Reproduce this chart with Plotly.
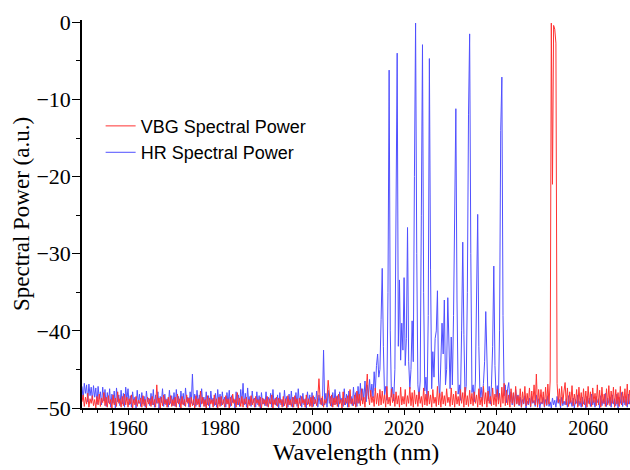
import plotly.graph_objects as go

# Wavelength grid: 1950.00 nm onward, one sample every 0.25 nm (rows of 20 samples = 5 nm)
start_nm = 1950.0
step_nm = 0.25

# HR (blue) spectral power
hr_power = [
    # 1950
    -47.2, -48.9, -46.8, -48.1, -47.0, -49.2, -46.9, -48.4, -47.3, -49.0, -47.1, -48.6, -47.4, -49.5, -47.2, -48.8, -47.9, -49.6, -47.3, -49.1,
    # 1955
    -47.6, -49.8, -48.0, -49.3, -47.5, -49.9, -48.2, -49.4, -47.8, -50.0, -47.4, -49.2, -48.3, -49.7, -47.7, -49.5, -48.1, -49.9, -47.3, -49.0,
    # 1960
    -47.5, -49.6, -48.4, -49.9, -47.9, -49.3, -48.6, -50.0, -47.7, -49.4, -48.2, -49.8, -48.0, -49.5, -48.5, -49.9, -47.8, -49.2, -48.7, -49.7,
    # 1965
    -48.1, -49.6, -47.6, -49.9, -48.3, -49.4, -47.9, -50.0, -48.5, -49.3, -47.5, -49.8, -48.2, -49.6, -48.8, -49.9, -47.7, -49.4, -48.4, -49.7,
    # 1970
    -48.0, -49.8, -47.6, -49.3, -48.5, -49.9, -47.8, -49.5, -48.1, -49.7, -47.4, -49.2, -48.6, -49.9, -47.9, -49.4, -45.6, -49.6, -48.2, -49.8,
    # 1975
    -47.7, -49.5, -48.3, -49.9, -47.5, -49.4, -48.6, -49.8, -47.9, -49.6, -48.4, -50.0, -47.8, -49.3, -48.7, -49.7, -48.1, -49.9, -47.6, -49.5,
    # 1980
    -48.2, -49.7, -47.9, -49.4, -48.6, -49.9, -48.0, -49.5, -47.7, -49.8, -48.4, -49.3, -48.8, -50.0, -47.9, -49.6, -48.3, -49.8, -47.6, -49.4,
    # 1985
    -46.8, -49.6, -48.1, -49.9, -47.4, -49.5, -48.5, -49.8, -47.8, -49.3, -48.7, -49.9, -47.9, -49.6, -48.4, -50.0, -48.0, -49.5, -48.8, -49.7,
    # 1990
    -47.9, -49.8, -48.6, -49.4, -48.1, -49.9, -47.6, -49.5, -48.7, -49.7, -48.3, -50.0, -48.0, -49.6, -48.9, -49.8, -47.7, -49.4, -48.5, -49.9,
    # 1995
    -48.2, -49.6, -47.8, -49.9, -48.6, -49.5, -48.0, -49.8, -47.5, -49.4, -48.4, -49.9, -48.1, -49.6, -48.8, -50.0, -47.9, -49.5, -48.3, -49.7,
    # 2000
    -48.0, -49.8, -48.6, -49.4, -47.8, -49.9, -48.3, -49.5, -48.7, -49.7, -42.5, -49.6, -48.1, -49.9, -47.7, -49.4, -48.5, -49.8, -48.0, -49.6,
    # 2005
    -47.6, -49.5, -48.4, -49.9, -47.9, -49.3, -48.7, -49.8, -47.5, -49.6, -48.2, -49.9, -47.8, -49.4, -48.5, -49.7, -47.3, -49.5, -48.0, -49.8,
    # 2010
    -47.2, -49.4, -46.8, -49.0, -47.5, -48.9, -46.5, -49.2, -47.0, -48.8, -46.3, -48.5, -46.9, -48.7, -45.3, -47.8, -44.5, -43.0, -46.0, -45.0,
    # 2015
    -38.5, -31.9, -42.0, -48.3, -47.2, -49.0, -35.0, -6.2, -40.0, -48.6, -47.3, -49.1, -45.0, -20.0, -4.0, -42.0, -33.4, -43.8, -39.0, -42.5,
    # 2020
    -33.1, -44.5, -41.0, -26.6, -44.0, -47.5, -45.0, -38.7, -44.0, -20.0, -0.1, -30.0, -47.0, -48.8, -46.5, -25.0, -2.9, -35.0, -47.8, -46.0,
    # 2025
    -49.0, -38.0, -4.7, -32.0, -47.5, -42.7, -46.0, -41.0, -40.0, -34.8, -46.5, -48.5, -42.5, -39.0, -43.0, -36.0, -47.0, -45.0, -35.7, -44.0,
    # 2030
    -47.5, -40.8, -47.0, -38.0, -20.0, -11.2, -36.0, -48.2, -47.0, -49.0, -40.0, -28.5, -40.5, -48.5, -47.2, -35.0, -12.0, -1.5, -30.0, -48.0,
    # 2035
    -47.0, -49.2, -46.5, -38.0, -24.9, -42.0, -48.7, -47.3, -49.0, -46.8, -44.0, -37.5, -46.0, -49.1, -47.2, -49.5, -46.9, -42.0, -31.6, -44.5,
    # 2040
    -48.6, -47.1, -49.0, -40.0, -14.0, -7.1, -38.0, -48.4, -47.0, -49.3, -47.5, -46.7, -49.2, -47.9, -49.6, -48.1, -49.8, -47.6, -49.4, -48.3,
    # 2045
    -49.7, -48.6, -49.9, -48.9, -49.5, -48.4, -50.0, -49.1, -49.6, -48.7, -49.9, -48.5, -49.4, -49.0, -49.8, -48.3, -49.6, -48.8, -50.0, -49.2,
    # 2050
    -49.5, -48.6, -49.9, -48.9, -49.7, -48.4, -49.8, -49.2, -50.0, -48.7, -49.6, -49.0, -49.9, -48.5, -49.4, -48.9, -50.0, -48.6, -49.7, -49.1,
    # 2055
    -49.6, -48.8, -49.9, -48.4, -49.5, -49.0, -49.8, -48.7, -50.0, -48.9, -49.4, -48.3, -49.7, -49.1, -49.9, -48.6, -49.5, -48.9, -50.0, -48.5,
    # 2060
    -49.4, -48.7, -49.8, -48.2, -49.6, -49.0, -49.9, -48.5, -49.3, -48.8, -50.0, -48.4, -49.7, -48.9, -49.5, -48.1, -49.8, -48.7, -49.4, -48.6,
    # 2065
    -49.9, -48.3, -49.5, -48.8, -49.7, -48.2, -50.0, -48.6, -49.4, -48.0, -49.8, -48.5, -49.6, -48.9, -49.9, -48.2, -49.5, -48.7, -49.8, -48.4,
    # 2070
    -49.6, -48.5, -49.9, -48.8,
]

# VBG (red) spectral power
vbg_power = [
    # 1950
    -49.2, -48.3, -49.8, -48.6, -49.5, -48.1, -49.9, -48.8, -49.4, -48.4, -49.7, -48.9, -50.0, -48.5, -49.6, -48.2, -49.8, -48.7, -49.3, -48.0,
    # 1955
    -49.7, -48.6, -49.9, -48.4, -49.5, -48.9, -50.0, -48.3, -49.6, -48.7, -49.8, -47.9, -49.4, -48.8, -49.9, -48.5, -49.7, -48.2, -49.6, -48.6,
    # 1960
    -49.9, -48.8, -49.5, -48.3, -50.0, -48.9, -49.6, -48.5, -49.8, -49.0, -49.4, -48.7, -49.9, -48.4, -49.7, -48.9, -50.0, -48.6, -49.5, -48.8,
    # 1965
    -49.8, -48.5, -49.6, -48.9, -49.9, -47.0, -49.4, -48.7, -50.0, -48.6, -49.7, -48.3, -49.5, -48.9, -49.9, -48.6, -49.6, -48.4, -49.8, -48.9,
    # 1970
    -49.7, -48.6, -49.9, -48.2, -49.5, -48.8, -50.0, -48.5, -49.6, -48.9, -49.8, -48.3, -49.4, -48.7, -49.9, -48.6, -49.7, -48.9, -50.0, -48.4,
    # 1975
    -49.6, -48.8, -49.9, -47.8, -49.5, -48.6, -49.8, -48.9, -50.0, -48.4, -49.7, -48.7, -49.5, -48.9, -49.9, -48.3, -49.6, -48.8, -50.0, -48.6,
    # 1980
    -49.8, -48.5, -49.6, -48.9, -49.9, -48.4, -49.5, -48.8, -50.0, -48.6, -49.7, -48.2, -49.4, -48.9, -49.9, -48.0, -49.6, -48.7, -49.8, -48.5,
    # 1985
    -49.9, -48.8, -49.5, -48.6, -50.0, -48.9, -49.7, -48.4, -49.6, -48.8, -49.9, -48.5, -49.4, -48.9, -49.8, -48.6, -50.0, -48.7, -49.5, -48.9,
    # 1990
    -49.7, -48.5, -49.9, -48.8, -49.5, -48.3, -50.0, -48.9, -49.6, -48.6, -49.8, -48.7, -49.4, -48.9, -49.9, -48.5, -49.7, -48.8, -50.0, -48.4,
    # 1995
    -49.6, -48.9, -49.8, -48.6, -49.9, -48.4, -49.5, -48.8, -50.0, -48.7, -49.7, -48.5, -49.4, -48.9, -49.9, -48.3, -49.6, -48.8, -49.8, -48.6,
    # 2000
    -49.9, -48.4, -49.5, -48.9, -49.7, -48.6, -46.2, -48.8, -49.6, -48.5, -49.9, -48.9, -49.4, -48.6, -46.4, -48.8, -49.7, -48.3, -49.9, -48.7,
    # 2005
    -49.6, -48.5, -49.8, -48.2, -49.5, -48.9, -50.0, -47.9, -49.6, -48.7, -49.4, -48.4, -49.9, -47.6, -49.5, -48.8, -49.7, -48.3, -49.9, -47.8,
    # 2010
    -49.4, -48.2, -49.7, -47.5, -49.5, -48.6, -49.9, -47.9, -45.6, -48.4, -49.6, -47.7, -49.3, -48.5, -49.8, -47.4, -49.5, -48.1, -49.7, -47.6,
    # 2015
    -49.6, -47.8, -49.4, -48.3, -49.9, -47.2, -49.5, -48.6, -49.7, -47.5, -49.3, -48.2, -49.8, -47.9, -49.5, -48.4, -49.9, -47.3, -49.6, -48.5,
    # 2020
    -49.5, -47.6, -49.8, -48.4, -49.4, -47.3, -49.7, -48.0, -49.9, -47.7, -49.5, -48.3, -49.8, -47.9, -49.4, -48.5, -49.9, -47.4, -49.6, -48.2,
    # 2025
    -49.7, -47.8, -49.5, -48.3, -49.9, -47.6, -49.4, -48.6, -49.8, -47.2, -49.6, -48.1, -49.9, -47.9, -49.5, -48.4, -49.7, -47.5, -49.3, -48.6,
    # 2030
    -49.8, -47.4, -49.6, -48.2, -49.9, -47.8, -49.5, -48.5, -49.7, -47.6, -49.4, -48.0, -49.9, -47.3, -49.6, -48.4, -49.8, -47.7, -49.5, -48.1,
    # 2035
    -49.7, -47.9, -49.4, -48.3, -49.9, -47.5, -49.6, -48.6, -49.8, -47.2, -49.5, -48.0, -49.9, -47.8, -49.4, -48.5, -49.7, -47.4, -49.6, -48.2,
    # 2040
    -49.8, -47.6, -49.5, -48.1, -49.9, -47.3, -49.4, -46.8, -49.7, -47.7, -49.6, -48.3, -49.9, -47.5, -49.4, -48.0, -49.8, -47.2, -49.5, -48.4,
    # 2045
    -49.6, -47.5, -49.9, -47.9, -49.4, -47.2, -49.7, -48.1, -49.5, -47.4, -49.8, -47.8, -49.3, -47.0, -49.6, -45.6, -49.9, -47.6, -49.5, -47.6,
    # 2050
    -49.4, -47.9, -49.8, -47.3, -49.6, -46.9, -49.5, -46.5, -0.1, -21.0, -0.4, -0.9, -2.7, -46.8, -49.3, -47.5, -49.7, -47.2, -49.4, -47.8,
    # 2055
    -46.7, -49.6, -47.4, -49.8, -47.9, -49.3, -47.1, -49.7, -48.2, -49.5, -47.6, -49.9, -47.3, -49.4, -48.0, -49.8, -47.5, -49.6, -47.8, -49.9,
    # 2060
    -47.2, -49.5, -47.9, -49.8, -47.4, -49.3, -48.1, -49.7, -47.0, -49.6, -47.7, -49.9, -47.3, -49.4, -48.2, -49.8, -47.5, -49.6, -47.1, -49.7,
    # 2065
    -47.8, -49.4, -47.3, -49.9, -47.6, -49.5, -48.0, -49.8, -47.2, -49.6, -47.9, -49.3, -47.5, -49.7, -46.9, -49.5, -47.7, -49.9, -47.4, -49.6,
    # 2070
    -47.6, -49.8, -47.9, -49.5,
]

x_range = [1950, 2069.1]
y_range = [-50, 0.3]
x_tickvals = [1960, 1980, 2000, 2020, 2040, 2060]
y_tickvals = [0, -10, -20, -30, -40, -50]

hr_nm = [start_nm + step_nm * i for i in range(len(hr_power))]
vbg_nm = [start_nm + step_nm * i for i in range(len(vbg_power))]

fig = go.Figure()
fig.add_trace(go.Scatter(
    x=hr_nm, y=hr_power, mode="lines", name="HR Spectral Power",
    line=dict(color="rgb(80,80,255)", width=1),
))
fig.add_trace(go.Scatter(
    x=vbg_nm, y=vbg_power, mode="lines", name="VBG Spectral Power",
    line=dict(color="rgb(255,50,50)", width=1),
))

serif = "Liberation Serif, Times New Roman, serif"
fig.update_layout(
    width=630, height=470,
    margin=dict(l=82, r=0, t=20, b=62, autoexpand=False),
    paper_bgcolor="white", plot_bgcolor="white",
    showlegend=True,
    legend=dict(
        x=0.034, y=0.774, xanchor="left", yanchor="top",
        traceorder="reversed",
        font=dict(family="Liberation Sans, Arial, sans-serif", size=18, color="black"),
        bgcolor="rgba(0,0,0,0)", borderwidth=0,
        tracegroupgap=0, itemwidth=30,
    ),
)
fig.update_xaxes(
    range=x_range, tickvals=x_tickvals, automargin=False,
    showline=True, linecolor="black", linewidth=1.5, mirror=False,
    ticks="outside", ticklen=5, tickwidth=1.3, tickcolor="black",
    tickfont=dict(family=serif, size=20, color="black"),
    ticklabelstandoff=-4,
    showgrid=False, zeroline=False,
    minor=dict(dtick=20 / 6, tick0=1960, ticks="outside", ticklen=3, tickwidth=1, tickcolor="black", showgrid=False),
    title=dict(text="Wavelength (nm)", font=dict(family=serif, size=24, color="black"), standoff=4),
)
fig.update_yaxes(
    range=y_range, tickvals=y_tickvals, automargin=False,
    showline=True, linecolor="black", linewidth=1.5, mirror=False,
    ticks="outside", ticklen=8, tickwidth=1.3, tickcolor="black",
    tickfont=dict(family=serif, size=22, color="black"),
    ticklabelstandoff=-3,
    showgrid=False, zeroline=False,
    minor=dict(dtick=5, tick0=0, ticks="outside", ticklen=4, tickwidth=1, tickcolor="black", showgrid=False),
    title=dict(text="Spectral Power (a.u.)", font=dict(family=serif, size=23, color="black"), standoff=0),
)

fig.write_html(
    "out.html",
    config={"displayModeBar": False},
    post_script="document.body.style.margin='0';document.body.style.overflow='hidden';",
)
